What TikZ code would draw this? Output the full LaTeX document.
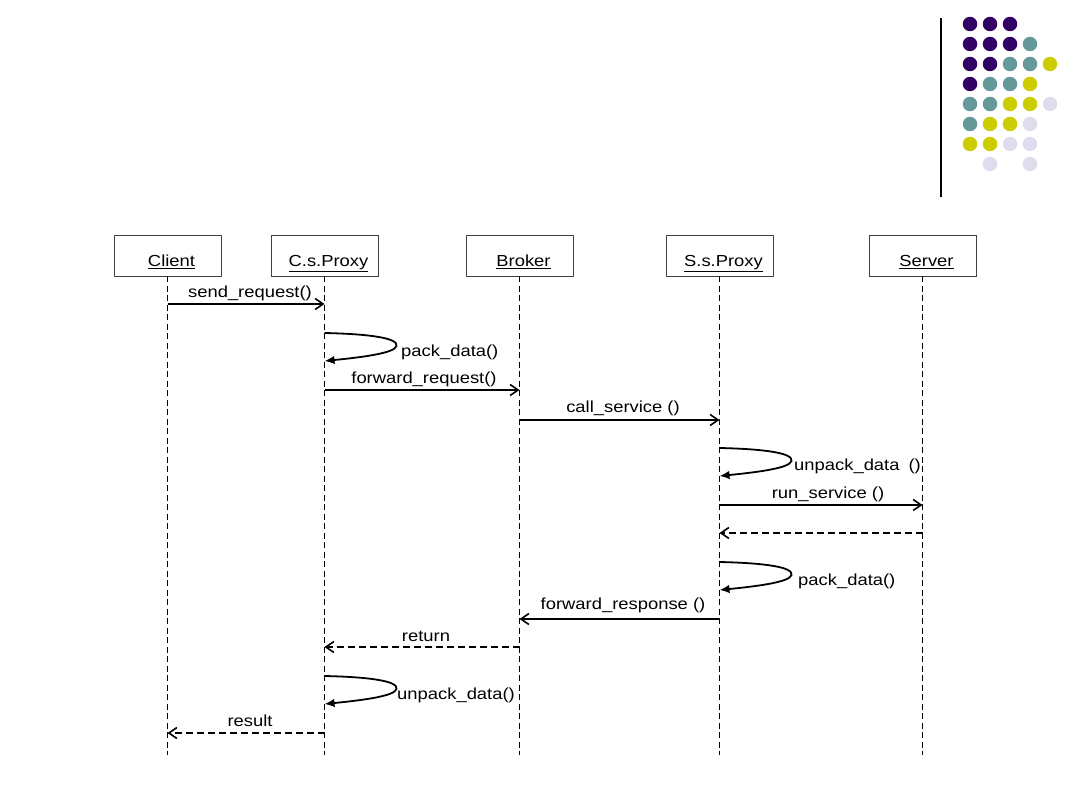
\documentclass[tikz,border=0pt]{standalone}
\usepackage{fontspec}
\setmainfont{Liberation Sans}
\newfontfamily\diafont[FakeStretch=1.15]{Liberation Sans}
\usetikzlibrary{arrows.meta}
\definecolor{lpurple}{HTML}{330066}
\definecolor{lteal}{HTML}{669999}
\definecolor{lyellow}{HTML}{CCCC00}
\definecolor{llav}{HTML}{DDDDEE}
\begin{document}
\begin{tikzpicture}[x=1pt,y=-1pt,
  obj/.style={draw=black!75, line width=0.9pt, minimum width=107pt, minimum height=41pt, inner sep=0pt},
  objlabel/.style={anchor=base, inner sep=0pt, font=\diafont\fontsize{16}{18}\selectfont},
  life/.style={line width=1.6pt, dash pattern=on 6pt off 3.5pt},
  msg/.style={line width=1.8pt, -{Straight Barb[length=8pt,width=11pt,line width=1.6pt]}},
  ret/.style={msg, dash pattern=on 7pt off 4pt},
  selfarrow/.style={line width=1.8pt, -{Latex[length=10pt,width=8.5pt]}},
  lbl/.style={anchor=base, inner sep=0pt, font=\diafont\fontsize{16}{18}\selectfont},
  dot/.style={circle, minimum size=14.5pt, inner sep=0pt},
  selfcall/.pic={\draw[selfarrow] (0,0) .. controls (45,1) and (74,5) .. (72,13) .. controls (70,20) and (40,24) .. (0,28);}
]
\useasboundingbox (0,0) rectangle (1080,810);

% logo
\draw[line width=1.4pt] (941,18) -- (941,197);
\foreach \r/\cols in {24/{0/lpurple,1/lpurple,2/lpurple},
                      44/{0/lpurple,1/lpurple,2/lpurple,3/lteal},
                      64/{0/lpurple,1/lpurple,2/lteal,3/lteal,4/lyellow},
                      84/{0/lpurple,1/lteal,2/lteal,3/lyellow},
                      104/{0/lteal,1/lteal,2/lyellow,3/lyellow,4/llav},
                      124/{0/lteal,1/lyellow,2/lyellow,3/llav},
                      144/{0/lyellow,1/lyellow,2/llav,3/llav},
                      164/{1/llav,3/llav}}{
  \foreach \c/\col in \cols {
    \node[dot, fill=\col] (d\r-\c) at (970+20*\c,\r) {};
  }
}

% objects
\node[obj] (client) at (167.5,255.5) {};
\node[obj] (csp)    at (324.5,255.5) {};
\node[obj] (broker) at (519.5,255.5) {};
\node[obj] (ssp)    at (719.5,255.5) {};
\node[obj] (server) at (922.5,255.5) {};
\node[objlabel] (lclient) at (171.5,266.5) {\underline{Client}};
\node[objlabel] (lcsp)    at (328.5,266.5) {\underline{C.s.Proxy}};
\node[objlabel] (lbroker) at (523.5,266.5) {\underline{Broker}};
\node[objlabel] (lssp)    at (723.5,266.5) {\underline{S.s.Proxy}};
\node[objlabel] (lserver) at (926.5,266.5) {\underline{Server}};

% lifelines
\foreach \o in {client,csp,broker,ssp,server}{
  \coordinate (\o-end) at (\o.south |- 0,755);
  \draw[life] (\o.south) -- (\o-end);
}

% messages
\draw[msg] (client |- 0,304) -- (csp |- 0,304);
\node[lbl] (t1) at (250,298) {send\_request()};

\pic at (csp |- 0,333) {selfcall};
\node[lbl, anchor=base west] (t2) at (401,357) {pack\_data()};

\draw[msg] (csp |- 0,390) -- (broker |- 0,390);
\node[lbl] (t3) at (424,384) {forward\_request()};

\draw[msg] (broker |- 0,420) -- (ssp |- 0,420);
\node[lbl] (t4) at (623,413) {call\_service ()};

\pic at (ssp |- 0,448) {selfcall};
\node[lbl, anchor=base west] (t5) at (794,471) {unpack\_data\hspace{9pt}()};

\draw[msg] (ssp |- 0,505) -- (server |- 0,505);
\node[lbl] (t6) at (828,498) {run\_service ()};

\draw[ret] (server |- 0,533) -- (ssp |- 0,533);

\pic at (ssp |- 0,562) {selfcall};
\node[lbl, anchor=base west] (t7) at (798,585) {pack\_data()};

\draw[msg] (ssp |- 0,619) -- (broker |- 0,619);
\node[lbl] (t8) at (623,609) {forward\_response ()};

\draw[ret] (broker |- 0,647) -- (csp |- 0,647);
\node[lbl] (t9) at (426,641) {return};

\pic at (csp |- 0,676) {selfcall};
\node[lbl, anchor=base west] (t10) at (397,699) {unpack\_data()};

\draw[ret] (csp |- 0,733) -- (client |- 0,733);
\node[lbl] (t11) at (250,726) {result};
\end{tikzpicture}
\end{document}
